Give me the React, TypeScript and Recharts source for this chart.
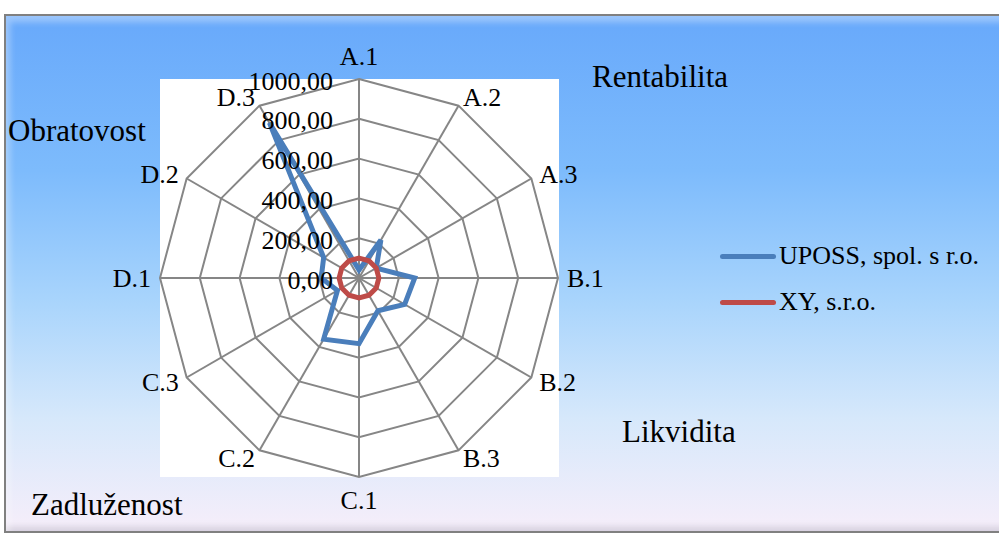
import React from "react";
import {
  RadarChart,
  Radar,
  PolarGrid,
  PolarAngleAxis,
  PolarRadiusAxis,
  Legend,
} from "recharts";

const categories = ["A.1", "A.2", "A.3", "B.1", "B.2", "B.3", "C.1", "C.2", "C.3", "D.1", "D.2", "D.3"];
const upossValues = [40, 220, 100, 280, 265, 190, 330, 355, 125, 190, 205, 900];
const xyValues = [100, 100, 100, 100, 100, 100, 100, 100, 100, 100, 100, 100];
const groupLabels = [
  { text: "Rentabilita", x: 592, y: 87 },
  { text: "Obratovost", x: 8, y: 141 },
  { text: "Likvidita", x: 622, y: 442 },
  { text: "Zadluženost", x: 31, y: 515 },
];

const series = [
  { key: "uposs", name: "UPOSS, spol. s r.o.", color: "#4a7ebb" },
  { key: "xy", name: "XY, s.r.o.", color: "#be4b48" },
];

const data = categories.map((name, i) => ({
  name,
  uposs: upossValues[i],
  xy: xyValues[i],
}));

const FONT = '"Liberation Serif", "Times New Roman", serif';
const CX = 359;
const CY = 278;
const R = 199;

// excel-like label placement: just outside the vertex, anchored by side
const AngleTick = (props: any) => {
  const angle = props.payload.coordinate;
  const rad = (-angle * Math.PI) / 180;
  const ux = Math.cos(rad);
  const uy = Math.sin(rad);
  const px = CX + ux * (R + 9);
  let py = CY + uy * (R + 9);
  let anchor = "middle";
  if (Math.abs(ux) < 0.01) {
    py += uy * 14;
  } else {
    anchor = ux > 0 ? "start" : "end";
  }
  return (
    <text x={px} y={py} textAnchor={anchor} dominantBaseline="central" fontSize={26} fontFamily={FONT} fill="#000">
      {props.payload.value}
    </text>
  );
};

const RadiusTick = (props: any) => {
  const v = props.payload.value;
  return (
    <text x={props.x - 26} y={props.y + 2} textAnchor="end" dominantBaseline="central" fontSize={26} fontFamily={FONT} fill="#000">
      {v.toFixed(2).replace(".", ",")}
    </text>
  );
};

const LegendBox = (props: any) => (
  <div style={{ fontFamily: FONT }}>
    {props.payload.map((p: any) => (
      <div key={p.value} style={{ display: "flex", alignItems: "center", height: 46 }}>
        <div style={{ width: 56, height: 5, borderRadius: 3, background: p.color, marginRight: 3 }} />
        <span style={{ fontSize: 26, color: "#000" }}>{p.value}</span>
      </div>
    ))}
  </div>
);

export default function App() {
  return (
    <div style={{ position: "absolute", left: 0, top: 0, width: 999, height: 534, overflow: "hidden", background: "#fff" }}>
      <div
        style={{
          position: "absolute",
          left: 4,
          top: 14,
          width: 1000,
          height: 515,
          border: "2px solid #808080",
          background: "linear-gradient(#68a9fb 0%, #7dbbfc 30%, #a8d4fc 55%, #d6e8fb 78%, #f6eefa 100%)",
          boxShadow: "inset 8px 10px 6px -4px rgba(255,255,255,0.35), inset 0 -8px 6px -4px rgba(120,120,140,0.25)",
        }}
      />
      <div style={{ position: "absolute", left: 160, top: 79, width: 399, height: 398, background: "#fff" }} />
      {groupLabels.map((g) => (
        <div
          key={g.text}
          style={{ position: "absolute", left: g.x, top: g.y - 27, fontSize: 31, lineHeight: "34px", fontFamily: FONT, color: "#000" }}
        >
          {g.text}
        </div>
      ))}
      <div style={{ position: "absolute", left: 0, top: 0 }}>
        <RadarChart
          width={999}
          height={534}
          data={data}
          cx={CX}
          cy={CY}
          outerRadius={R}
          startAngle={90}
          endAngle={-270}
          margin={{ top: 0, right: 0, bottom: 0, left: 0 }}
        >
          <PolarGrid gridType="polygon" stroke="#868686" strokeWidth={2} />
          <PolarAngleAxis dataKey="name" tick={<AngleTick />} axisLine={false} tickLine={false} />
          <PolarRadiusAxis
            angle={90}
            domain={[0, 1000]}
            tickCount={6}
            tick={<RadiusTick />}
            axisLine={false}
            tickLine={false}
          />
          {series.map((s) => (
            <Radar
              key={s.key}
              name={s.name}
              dataKey={s.key}
              stroke={s.color}
              strokeWidth={5}
              fill="none"
              fillOpacity={0}
              dot={false}
              isAnimationActive={false}
            />
          ))}
          <Legend
            layout="vertical"
            align="right"
            verticalAlign="top"
            content={<LegendBox />}
            wrapperStyle={{ left: 720, top: 233, right: "auto", width: 279 }}
          />
        </RadarChart>
      </div>
    </div>
  );
}
